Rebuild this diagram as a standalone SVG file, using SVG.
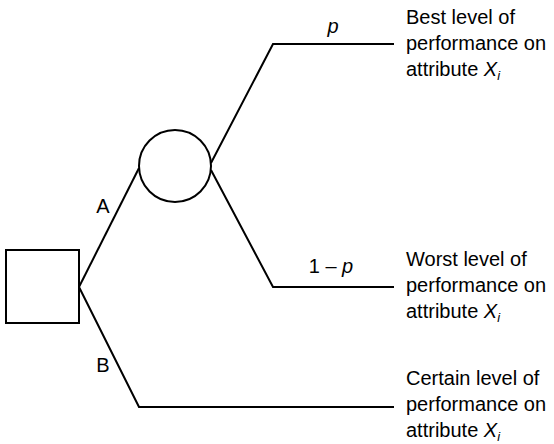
<svg xmlns="http://www.w3.org/2000/svg" width="554" height="444" viewBox="0 0 554 444">
<style>
.s{fill:none;stroke:#000;stroke-width:2}
text{font-family:"Liberation Sans",Arial,sans-serif;font-size:20px;fill:#000}
.c{text-anchor:middle}
</style>
<rect width="554" height="444" fill="#fff"/>
<g id="connectors">
<polyline class="s" points="79,287 139,168"/>
<polyline class="s" points="79,287 139,407 394,407"/>
<polyline class="s" points="211,163 273,44 394,44"/>
<polyline class="s" points="211,170 273,287 394,287"/>
<text x="103" y="213" class="c">A</text>
<text x="103" y="372" class="c">B</text>
<text x="333" y="33" class="c" font-style="italic">p</text>
<text x="331" y="273" class="c">1 – <tspan font-style="italic">p</tspan></text>
</g>
<g id="decision"><rect class="s" x="6" y="250" width="73" height="73"/></g>
<g id="chance"><circle class="s" cx="175" cy="166" r="36"/></g>
<g id="best">
<text x="406" y="24">Best level of</text>
<text x="406" y="50">performance on</text>
<text x="406" y="76">attribute <tspan font-style="italic">X</tspan><tspan font-style="italic" font-size="13" dy="4">i</tspan></text>
</g>
<g id="worst">
<text x="406" y="266">Worst level of</text>
<text x="406" y="292">performance on</text>
<text x="406" y="318">attribute <tspan font-style="italic">X</tspan><tspan font-style="italic" font-size="13" dy="4">i</tspan></text>
</g>
<g id="certain">
<text x="406" y="385">Certain level of</text>
<text x="406" y="411">performance on</text>
<text x="406" y="437">attribute <tspan font-style="italic">X</tspan><tspan font-style="italic" font-size="13" dy="4">i</tspan></text>
</g>
</svg>
